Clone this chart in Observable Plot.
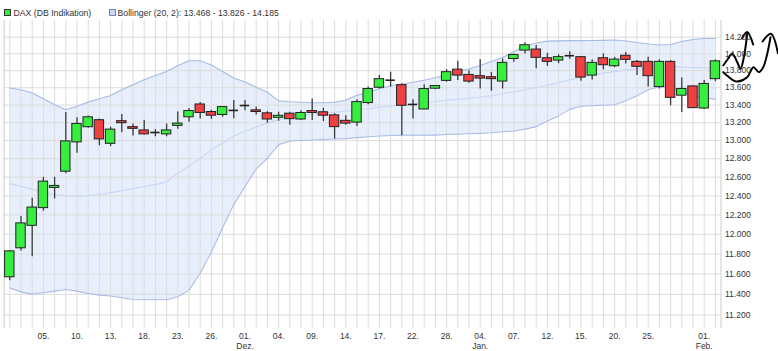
<!DOCTYPE html>
<html><head><meta charset="utf-8">
<script src="https://cdn.jsdelivr.net/npm/d3@7"></script>
<script src="https://cdn.jsdelivr.net/npm/@observablehq/plot@0.6"></script>
<style>
body{margin:0;background:#fff;font-family:"Liberation Sans",Arial,sans-serif;}
#legend{display:block;}
#chart svg{display:block;}
</style></head><body>
<svg id="legend" width="778" height="18"></svg>
<div id="chart"></div>
<script>
const dates = ["2020-11-02","2020-11-03","2020-11-04","2020-11-05","2020-11-06","2020-11-09","2020-11-10","2020-11-11","2020-11-12","2020-11-13","2020-11-16","2020-11-17","2020-11-18","2020-11-19","2020-11-20","2020-11-23","2020-11-24","2020-11-25","2020-11-26","2020-11-27","2020-11-30",
"2020-12-01","2020-12-02","2020-12-03","2020-12-04","2020-12-07","2020-12-08","2020-12-09","2020-12-10","2020-12-11","2020-12-14","2020-12-15","2020-12-16","2020-12-17","2020-12-18","2020-12-21","2020-12-22","2020-12-23","2020-12-24","2020-12-28","2020-12-29","2020-12-30",
"2021-01-04","2021-01-05","2021-01-06","2021-01-07","2021-01-08","2021-01-11","2021-01-12","2021-01-13","2021-01-14","2021-01-15","2021-01-18","2021-01-19","2021-01-20","2021-01-21","2021-01-22","2021-01-25","2021-01-26","2021-01-27","2021-01-28","2021-01-29",
"2021-02-01","2021-02-02"];

const open = [11567,11857,12087,12271,12485,12659,12980,13149,13228,12964,
13217,13150,13113,13090,13069,13164,13261,13407,13321,13287,
13339,13395,13340,13306,13255,13302,13236,13332,13318,13283,
13221,13201,13423,13600,13688,13630,13407,13350,13589,13680,
13812,13750,13735,13723,13672,13938,14039,14051,13947,13919,
13977,13960,13742,13947,13852,13977,13904,13904,13608,13904,
13508,13615,13361,13700];
const high = [11836,12183,12375,12598,12598,13314,13257,13276,13240,13149,
13292,13186,13224,13122,13186,13322,13360,13430,13340,13384,
13453,13453,13377,13325,13318,13318,13335,13469,13364,13302,
13279,13460,13608,13744,13782,13646,13460,13635,13626,13812,
13910,13800,13930,13779,13938,13998,14132,14100,14006,13988,
14025,13968,13927,13998,13958,14015,13919,13958,13928,13919,
13713,13623,13683,13928];
const low = [11532,11829,11773,12240,12368,12638,12861,13138,12943,12932,
13087,13050,13061,13042,13042,13126,13206,13242,13236,13261,
13245,13335,13287,13194,13217,13172,13224,13224,13213,13017,
13172,13157,13403,13585,13608,13053,13242,13346,13577,13665,
13683,13653,13586,13559,13586,13898,13998,13822,13851,13882,
13936,13677,13690,13810,13836,13880,13742,13608,13586,13392,
13314,13362,13350,13672];
const close = [11826,12112,12277,12552,12506,12991,13186,13261,13013,13122,
13194,13131,13069,13090,13113,13190,13332,13310,13279,13377,
13339,13395,13321,13236,13278,13240,13310,13310,13279,13150,
13190,13434,13585,13700,13688,13392,13407,13585,13620,13782,
13742,13672,13707,13700,13892,13986,14103,13952,13904,13960,
13977,13719,13892,13864,13931,13928,13845,13735,13904,13483,
13586,13365,13644,13910];

const bbUpper = [13597,13577,13539,13472,13403,13346,13384,13434,13472,13510,
13577,13635,13694,13744,13789,13859,13918,13918,13867,13789,
13713,13666,13606,13548,13449,13438,13432,13426,13426,13432,
13455,13513,13545,13588,13623,13641,13664,13688,13717,13747,
13788,13820,13862,13909,13957,14024,14087,14130,14152,14156,
14158,14158,14160,14162,14166,14154,14136,14118,14106,14112,
14148,14172,14184,14185];
const bbMiddle = [12528,12501,12469,12437,12415,12398,12398,12403,12414,12435,
12456,12477,12499,12520,12549,12641,12718,12805,12895,12972,
13050,13105,13150,13198,13232,13255,13278,13295,13306,13318,
13329,13341,13358,13375,13387,13403,13415,13426,13438,13455,
13466,13478,13490,13507,13530,13554,13577,13600,13629,13659,
13694,13723,13747,13771,13788,13806,13824,13836,13848,13848,
13842,13836,13836,13826];
const bbLower = [11463,11424,11402,11415,11431,11447,11431,11408,11392,11383,
11366,11350,11347,11347,11347,11376,11441,11607,11819,12067,
12310,12500,12690,12805,12955,12995,13000,13006,13011,13017,
13022,13033,13042,13050,13056,13061,13061,13061,13061,13067,
13072,13076,13080,13087,13098,13106,13128,13156,13220,13277,
13351,13386,13392,13398,13403,13449,13506,13577,13612,13600,
13554,13506,13483,13468];

const xTickDates = ["2020-11-05","2020-11-10","2020-11-13","2020-11-18","2020-11-23","2020-11-26","2020-12-01","2020-12-04","2020-12-09","2020-12-14","2020-12-17","2020-12-22","2020-12-28","2021-01-04","2021-01-07","2021-01-12","2021-01-15","2021-01-20","2021-01-25","2021-02-01"];
const xTickLabels = ["05.","10.","13.","18.","23.","26.","01.\nDez.","04.","09.","14.","17.","22.","28.","04.\nJan.","07.","12.","15.","20.","25.","01.\nFeb."];
const yTicks = [11200,11400,11600,11800,12000,12200,12400,12600,12800,13000,13200,13400,13600,13800,14000,14200];
const legendLabels = ["DAX (DB Indikation)", "Bollinger (20, 2): 13.468 - 13.826 - 14.185"];

// hand-drawn annotation strokes (index position, value)
const scribble1 = [[63.70,13861],[64.08,13932],[64.50,14000],[64.95,13900],[65.24,13822],[65.54,13959],[65.84,14241]];
const scribble2 = [[65.38,14184],[65.84,14263],[66.37,14112]];
const scribble3 = [[63.70,13782],[64.64,13684],[64.97,13672],[65.84,13723],[66.40,13841],[66.88,13782],[67.27,13841],[67.63,14000],[67.92,14200]];
const scribble4 = [[67.21,14148],[67.96,14241],[68.59,14004]];

// legend
const lg = d3.select("#legend");
lg.append("rect").attr("x",4.5).attr("y",9.5).attr("width",6).attr("height",6).attr("fill","#37ee3f").attr("stroke","#333");
lg.append("text").attr("x",13.5).attr("y",15.6).attr("font-size","8.7px").attr("fill","#333").text(legendLabels[0]);
lg.append("rect").attr("x",109.5).attr("y",9.5).attr("width",6).attr("height",6).attr("fill","#c9d7f4").attr("stroke","#6f87c4");
lg.append("text").attr("x",117.5).attr("y",15.6).attr("font-size","8.7px").attr("fill","#333").text(legendLabels[1]);

const data = dates.map((d,i)=>({i, date:d, open:open[i], high:high[i], low:low[i], close:close[i], upper:bbUpper[i], middle:bbMiddle[i], lower:bbLower[i]}));
const tickIdx = xTickDates.map(d => dates.indexOf(d));
const de = d3.formatLocale({decimal:",", thousands:".", grouping:[3], currency:["","€"]});
const fmt = de.format(",");
const half = 0.42;
const bodies = data.filter(d => d.open !== d.close);
const dojis = data.filter(d => d.open === d.close);
const sx = d => d[0], sy = d => d[1];

const chart = Plot.plot({
  width: 778, height: 333,
  marginTop: 2, marginBottom: 23, marginLeft: 3.7, marginRight: 57.5,
  style: {fontFamily: "Liberation Sans, Arial, sans-serif", fontSize: "8.5px", color: "#333", background: "#fff", overflow: "visible"},
  x: {type: "linear", domain: [-0.5, 63.5]},
  y: {type: "log", domain: [11072, 14404]},
  color: {type: "identity"},
  marks: [
    Plot.areaY(data, {x: "i", y1: "lower", y2: "upper", fill: "#e8effc"}),
    Plot.ruleX(data, {x: "i", stroke: "#dcdcdc", strokeWidth: 1}),
    Plot.ruleY(yTicks, {stroke: "#dcdcdc", strokeWidth: 1}),
    Plot.ruleX([-0.5, 63.5], {stroke: "#cccccc"}),
    Plot.lineY(data, {x: "i", y: "upper", stroke: "#a8bbe7", strokeWidth: 1.1}),
    Plot.lineY(data, {x: "i", y: "lower", stroke: "#a8bbe7", strokeWidth: 1.1}),
    Plot.lineY(data, {x: "i", y: "middle", stroke: "#c8d7f5", strokeWidth: 1.1}),
    Plot.ruleX(data, {x: "i", y1: "low", y2: "high", stroke: "#3a3a3a", strokeWidth: 1.3}),
    Plot.rect(bodies, {x1: d => d.i - half, x2: d => d.i + half, y1: "open", y2: "close",
      fill: d => d.close > d.open ? "#37ee3f" : "#ee4242", stroke: "#222", strokeWidth: 1}),
    Plot.ruleY(dojis, {x1: d => d.i - half, x2: d => d.i + half, y: "close", stroke: "#222", strokeWidth: 1.6}),
    Plot.line(scribble1, {x: sx, y: sy, stroke: "#000", strokeWidth: 2, curve: "catmull-rom"}),
    Plot.line(scribble2, {x: sx, y: sy, stroke: "#000", strokeWidth: 2, curve: "catmull-rom"}),
    Plot.line(scribble3, {x: sx, y: sy, stroke: "#000", strokeWidth: 2, curve: "catmull-rom"}),
    Plot.line(scribble4, {x: sx, y: sy, stroke: "#000", strokeWidth: 2, curve: "catmull-rom"}),
    Plot.axisX(tickIdx, {tickFormat: i => xTickLabels[tickIdx.indexOf(i)], tickSize: 0, tickPadding: 3.5, lineHeight: 1.15, label: null, fill: "#333"}),
    Plot.axisY(yTicks, {anchor: "right", tickFormat: fmt, tickSize: 0, tickPadding: 4, label: null, fill: "#333"})
  ]
});
document.getElementById("chart").appendChild(chart);
</script>
</body></html>
